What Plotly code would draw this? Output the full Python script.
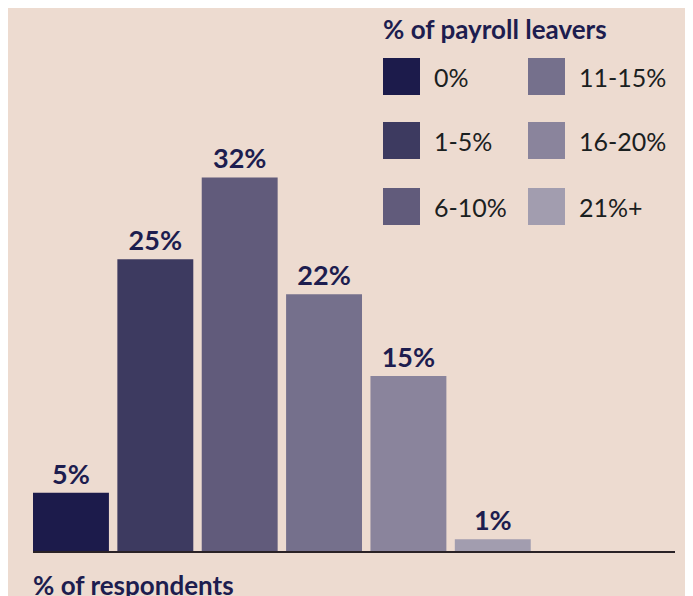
import plotly.graph_objects as go

categories = ['0%', '1-5%', '6-10%', '11-15%', '16-20%', '21%+']
respondents = [5, 25, 32, 22, 15, 1]
bar_colors = ['#1c1b4b', '#3d3a60', '#615b7b', '#75708c', '#8a849c', '#a29daf']

W, H = 693, 596
OFF = 8  # the page body adds an 8px margin, so pull everything back by that
L, R, T, B = 33 - OFF, 18 + OFF, 84 - OFF, 45 + OFF
PW, PH = W - L - R, H - T - B
navy = '#1d1d4f'
bg = '#eddbd0'


def px_x(px):
    return (px - OFF - L) / PW


def px_y(py):
    return (H - B - (py - OFF)) / PH


fig = go.Figure()
fig.add_trace(go.Bar(
    x=list(range(len(categories))), y=respondents,
    marker=dict(color=bar_colors, line=dict(width=0)),
    text=[f'{v}%' for v in respondents], textposition='outside',
    textfont=dict(family='Lato', size=27, color=navy, weight='bold'),
    cliponaxis=False, hoverinfo='skip', showlegend=False,
))

# legend drawn by hand: two columns of swatches
shapes = []
annotations = []
col_x = [383, 528]
row_y = [58, 122, 188]
for i, (cat, col) in enumerate(zip(categories, bar_colors)):
    cx = col_x[i // 3]
    ry = row_y[i % 3]
    shapes.append(dict(type='rect', xref='paper', yref='paper',
                       x0=px_x(cx), x1=px_x(cx + 37), y0=px_y(ry + 37), y1=px_y(ry),
                       fillcolor=col, line=dict(width=0)))
    annotations.append(dict(xref='paper', yref='paper', x=px_x(cx + 49), y=px_y(ry + 19),
                            text=cat, showarrow=False, xanchor='left', yanchor='middle',
                            font=dict(family='Lato', size=25, color='#1a2020')))

annotations.append(dict(xref='paper', yref='paper', x=px_x(381), y=px_y(29),
                        text='<b>% of payroll leavers</b>', showarrow=False,
                        xanchor='left', yanchor='middle',
                        font=dict(family='Lato', size=26, color=navy)))
annotations.append(dict(xref='paper', yref='paper', x=px_x(31), y=px_y(585),
                        text='<b>% of respondents</b>', showarrow=False,
                        xanchor='left', yanchor='middle',
                        font=dict(family='Lato', size=26, color=navy)))

fig.update_layout(
    width=W, height=H,
    margin=dict(l=L, r=R, t=T, b=B),
    paper_bgcolor=bg, plot_bgcolor=bg,
    bargap=0.1,
    xaxis=dict(range=[-0.45, 7.16], showticklabels=False, showgrid=False, zeroline=False,
               showline=True, linecolor='#2a2226', linewidth=2, ticks=''),
    yaxis=dict(range=[0, 40], visible=False),
    shapes=shapes, annotations=annotations,
)

fig.write_html('out.html')
